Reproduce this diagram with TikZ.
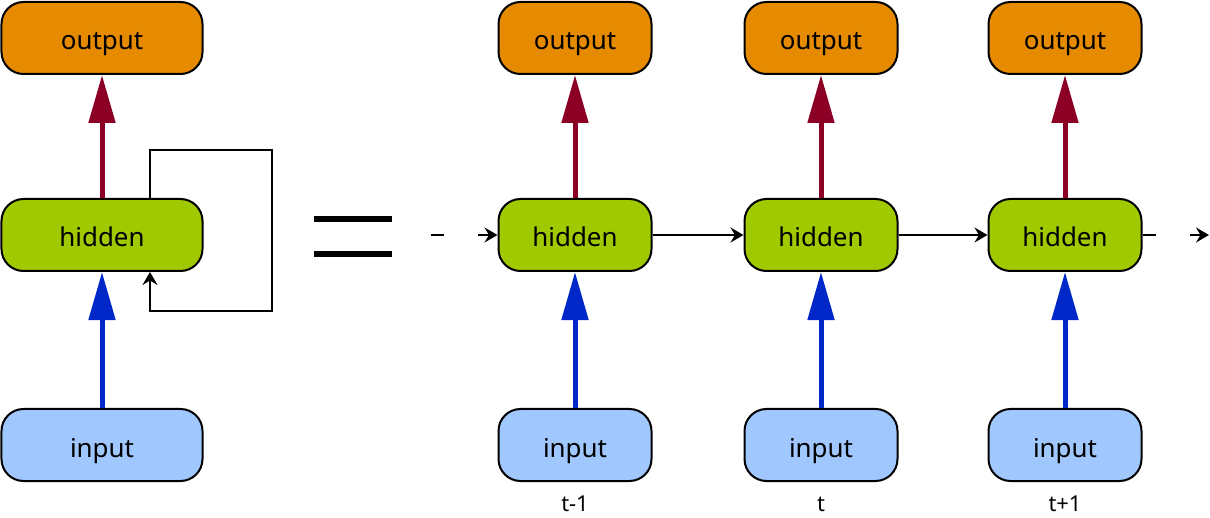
\documentclass[tikz,border=0pt]{standalone}
\usepackage{fontspec}
\setmainfont{Noto Sans}
\usetikzlibrary{arrows.meta}
\definecolor{outfill}{RGB}{230,138,0}
\definecolor{hidfill}{RGB}{161,201,0}
\definecolor{infill}{RGB}{160,200,255}
\definecolor{uparrow}{RGB}{140,0,38}
\definecolor{inarrow}{RGB}{0,40,200}
\tikzset{
  box/.style={draw=black, line width=2bp, rounded corners=22bp, minimum height=72bp,
              inner sep=0pt, text height=24bp, text depth=0bp,
              font=\fontsize{26}{30}\selectfont},
  wide/.style={box, minimum width=201bp},
  narrow/.style={box, minimum width=153bp},
  outbox/.style={fill=outfill},
  hidbox/.style={fill=hidfill},
  inbox/.style={fill=infill},
  toout/.style={draw=uparrow, line width=5bp, -{Triangle[width=26bp,length=48bp]}},
  fromin/.style={draw=inarrow, line width=5bp, -{Triangle[width=26bp,length=48bp]}},
  recur/.style={draw=black, line width=2bp, -{Stealth[width=15bp,length=13bp,inset=4.5bp]}},
  fade/.style={recur, dash pattern=on 13bp off 34bp},
  steplabel/.style={font=\fontsize{22}{26}\selectfont, inner sep=0pt, anchor=base}
}
\begin{document}
\begin{tikzpicture}[x=1bp,y=-1bp]
\useasboundingbox (0,0) rectangle (1210,518);

% folded network
\node[wide,outbox] (o0) at (102,38) {output};
\node[wide,hidbox] (h0) at (102,235) {hidden};
\node[wide,inbox]  (i0) at (102,445) {input};
\draw[toout] (h0.north) -- (o0.south);
\draw[fromin] (i0.north) -- (h0.south);
\coordinate (lpa) at (272,150);
\coordinate (lpb) at (272,311);
\draw[recur] ([xshift=48bp]h0.north) |- (lpa) -- (lpb) -| ([xshift=48bp]h0.south);

% equals sign
\fill (314,216) rectangle (392,222);
\fill (314,251) rectangle (392,257);

% unrolled network
\foreach \n/\x/\t in {1/575/t-1, 2/821/t, 3/1065/t+1}{
  \node[narrow,outbox] (o\n) at (\x,38) {output};
  \node[narrow,hidbox] (h\n) at (\x,235) {hidden};
  \node[narrow,inbox]  (i\n) at (\x,445) {input};
  \node[steplabel] (s\n) at (\x,511) {\t};
  \draw[toout] (h\n.north) -- (o\n.south);
  \draw[fromin] (i\n.north) -- (h\n.south);
}
\coordinate (pre) at (431,235);
\coordinate (post) at (1209,235);
\draw[fade] (pre) -- (h1.west);
\draw[recur] (h1.east) -- (h2.west);
\draw[recur] (h2.east) -- (h3.west);
\draw[fade] (h3.east) -- (post);
\end{tikzpicture}
\end{document}
